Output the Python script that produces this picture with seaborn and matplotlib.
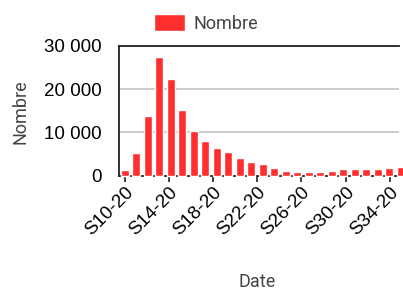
import numpy as np
import pandas as pd
import seaborn as sns
import matplotlib.pyplot as plt
from matplotlib.ticker import FuncFormatter

weeks = ["S%d-20" % w for w in range(10, 35)]
nombre = [1300, 5200, 13800, 27300, 22200, 15200, 10400, 8000, 6400, 5400,
          4100, 3250, 2600, 1800, 1150, 950, 950, 950, 1150, 1550,
          1550, 1480, 1620, 1780, 2080]
tick_weeks = weeks[::4]

sns.set_style("white")
plt.rcParams['font.family'] = ['Liberation Sans', 'DejaVu Sans']

df = pd.DataFrame({"Date": weeks, "Nombre": nombre})

fig = plt.figure(figsize=(4.03, 2.91), dpi=100)
ax = fig.add_axes([119 / 403, 1 - 175.7 / 291, 280 / 403, 130 / 291])

sns.barplot(data=df, x="Date", y="Nombre", color="#ff2f2f", saturation=1,
            width=0.7, ax=ax, label="Nombre", zorder=3)
for p in ax.patches:
    p.set_clip_on(False)

ax.set_xlim(-0.5, 23.85)
ax.set_ylim(0, 30000)
ax.set_yticks([0, 10000, 20000, 30000])
ax.yaxis.set_major_formatter(FuncFormatter(lambda v, pos: f"{int(v):,}".replace(",", " ")))
tick_pos = np.arange(0, len(weeks), 4) * 24 / 25
ax.set_xticks(tick_pos, tick_weeks)

ax.grid(axis="y", color="#c4c4c4", linewidth=1.2, zorder=0)
ax.grid(axis="x", visible=False)
for side in ["left", "top", "bottom"]:
    ax.spines[side].set_color("#222222")
    ax.spines[side].set_linewidth(1.3)
ax.spines["right"].set_visible(False)

ax.tick_params(axis="x", bottom=True, length=4, width=1.2, color="#222222",
               labelsize=13.5, labelcolor="black", pad=2)
ax.tick_params(axis="y", left=False, labelsize=13.5, labelcolor="black", pad=9)
plt.setp(ax.get_xticklabels(), rotation=45, ha="right", rotation_mode="anchor")

ax.set_xlabel("Date", fontsize=13, color="#444444", family=["Roboto", "DejaVu Sans"])
ax.set_ylabel("Nombre", fontsize=13, color="#444444", family=["Roboto", "DejaVu Sans"])
ax.xaxis.set_label_coords(0.493, -0.75)
ax.yaxis.set_label_coords(-0.32, 0.49)

leg = ax.legend(loc="center", bbox_to_anchor=(206 / 403, 1 - 23.5 / 291),
                bbox_transform=fig.transFigure, frameon=False,
                handlelength=1.7, handleheight=1.1, handletextpad=0.5,
                prop={"family": ["Roboto", "DejaVu Sans"], "size": 13})
for t in leg.get_texts():
    t.set_color("#444444")

fig.savefig("out.png", dpi=100)
